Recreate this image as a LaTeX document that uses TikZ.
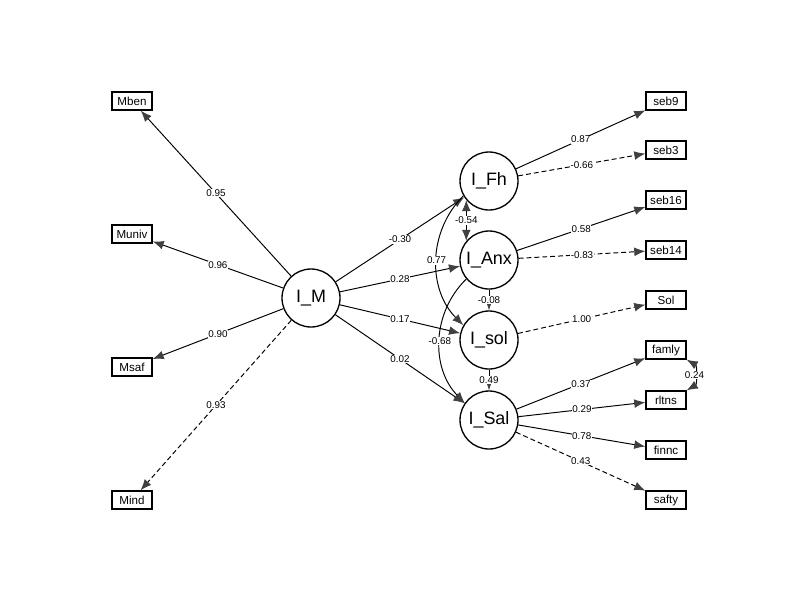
\documentclass[tikz,border=0pt]{standalone}
\usepackage{fontspec}
\setmainfont{Liberation Sans}
\usepackage{tikz}
\usetikzlibrary{arrows.meta,calc,positioning,shapes}
\definecolor{tipgray}{RGB}{64,64,64}
\tikzset{%
	latent/.style   = {draw, circle, line width=0.75pt, minimum size=1.16cm, inner sep=0pt, font=\fontsize{10.2}{12}\selectfont},
	manifest/.style = {draw, rectangle, line width=0.75pt, minimum width=0.8cm, minimum height=0.36cm, inner sep=0pt, font=\fontsize{6.6}{7}\selectfont},
	coef/.style     = {fill=white, inner sep=0.3pt, font=\fontsize{5.6}{6}\selectfont},
	reg/.style      = {line width=0.55pt, ->},
	fixed/.style    = {reg, dash pattern=on 2.8pt off 1.7pt},
	cov/.style      = {line width=0.55pt, <->},
}

\begin{document}
\begin{tikzpicture}[x=0.02cm, y=0.02cm, >={Latex[length=6.3pt,width=5pt,color=tipgray]}]
	\useasboundingbox (0,0) rectangle (800,600);
	
	% latent variables
	\node[latent] (IM)   at (311,302) {I\_M};
	\node[latent] (IFh)  at (489,419) {I\_Fh};
	\node[latent] (IAnx) at (489,340) {I\_Anx};
	\node[latent] (Isol) at (489,260) {I\_sol};
	\node[latent] (ISal) at (489,180) {I\_Sal};
	
	% indicators of I_M
	\node[manifest] (Mben)  at (132,499) {Mben};
	\node[manifest] (Muniv) at (132,366) {Muniv};
	\node[manifest] (Msaf)  at (132,233) {Msaf};
	\node[manifest] (Mind)  at (132,100) {Mind};
	
	% indicators on the right
	\node[manifest] (seb9)  at (666,499) {seb9};
	\node[manifest] (seb3)  at (666,450) {seb3};
	\node[manifest] (seb16) at (666,400) {seb16};
	\node[manifest] (seb14) at (666,350) {seb14};
	\node[manifest] (Sol)   at (666,300) {Sol};
	\node[manifest] (famly) at (666,250) {famly};
	\node[manifest] (rltns) at (666,200) {rltns};
	\node[manifest] (finnc) at (666,150) {finnc};
	\node[manifest] (safty) at (666,100) {safty};
	
	\draw[reg]   (IM) -- node[coef] {0.95} (Mben);
	\draw[reg]   (IM) -- node[coef] {0.96} (Muniv);
	\draw[reg]   (IM) -- node[coef] {0.90} (Msaf);
	\draw[fixed] (IM) -- node[coef] {0.93} (Mind);
	
	\draw[reg] (IM) -- node[coef] {-0.30} (IFh);
	\draw[reg] (IM) -- node[coef] {0.28} (IAnx);
	\draw[reg] (IM) -- node[coef] {0.17} (Isol);
	\draw[reg] (IM) -- node[coef] {0.02} (ISal);
	
	\draw[reg]   (IFh)  -- node[coef] {0.87} (seb9);
	\draw[fixed] (IFh)  -- node[coef] {-0.66} (seb3);
	\draw[reg]   (IAnx) -- node[coef] {0.58} (seb16);
	\draw[fixed] (IAnx) -- node[coef] {-0.83} (seb14);
	\draw[fixed] (Isol) -- node[coef] {1.00} (Sol);
	\draw[reg]   (ISal) -- node[coef] {0.37} (famly);
	\draw[reg]   (ISal) -- node[coef] {0.29} (rltns);
	\draw[reg]   (ISal) -- node[coef] {0.78} (finnc);
	\draw[fixed] (ISal) -- node[coef] {0.43} (safty);
	
	% paths between latents
	\draw[reg] (IAnx) -- node[coef] {-0.08} (Isol);
	\draw[reg] (Isol) -- node[coef] {0.49} (ISal);
	\draw[reg] (IFh.-150) to[bend right=45] node[coef] {0.77} (Isol.150);
	\draw[reg] (IAnx.-140) to[bend right=45] node[coef] {-0.68} (ISal.145);
	\draw[cov] (IFh.-140) -- node[coef] {-0.54} (IAnx.140);
	
	\draw[cov] (famly.south east) to[bend left=60] node[coef] {0.24} (rltns.north east);
	
\end{tikzpicture}
\end{document}
